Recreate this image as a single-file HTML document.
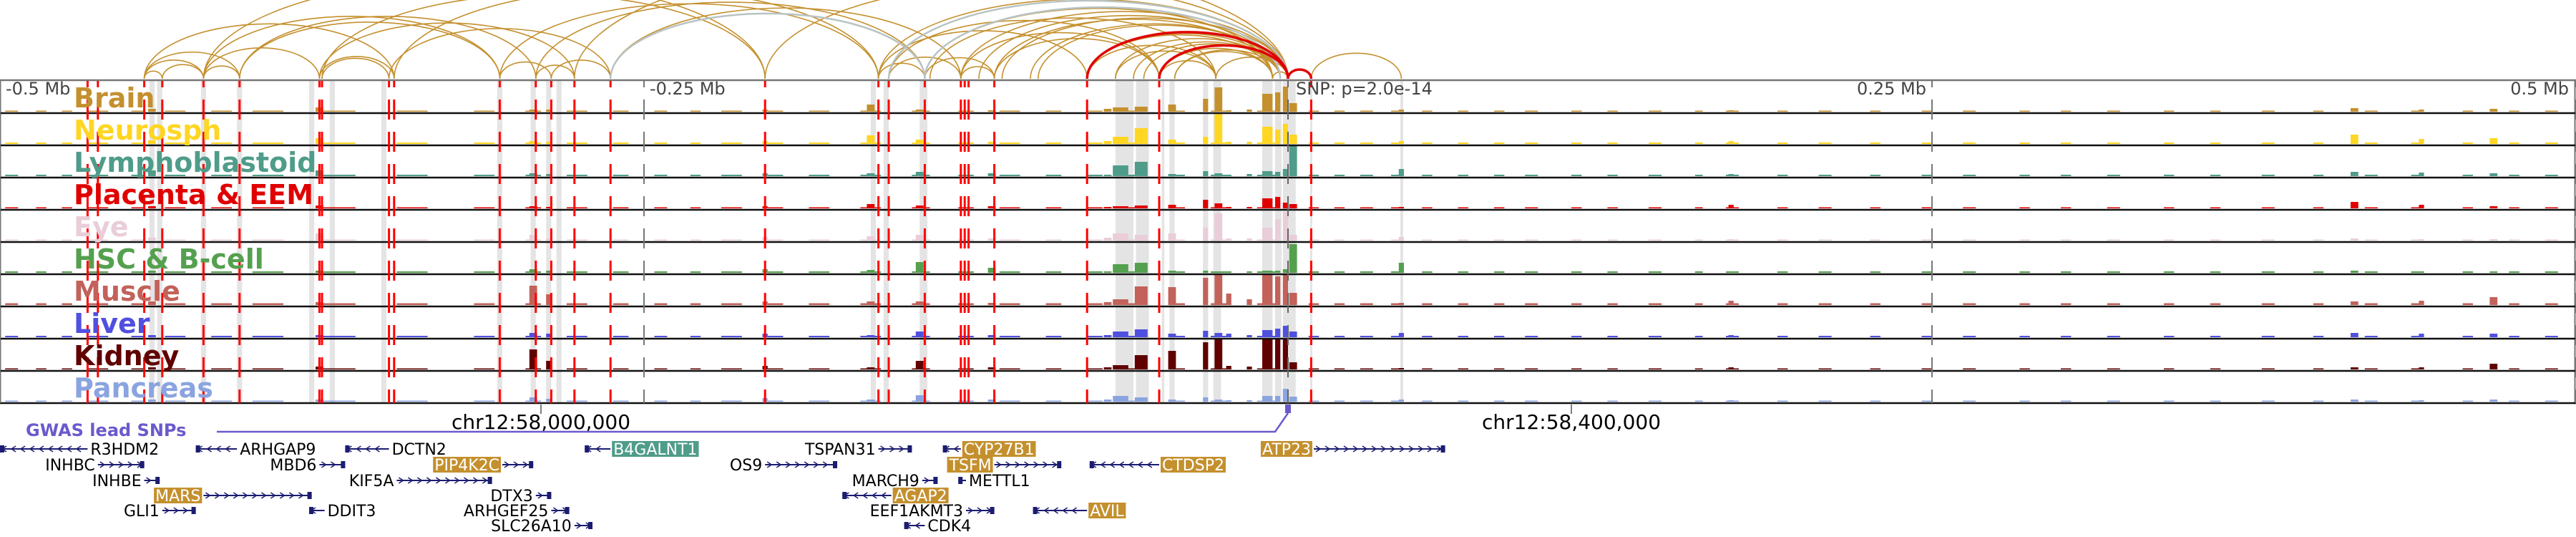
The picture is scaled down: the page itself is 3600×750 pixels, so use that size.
<!DOCTYPE html>
<html><head><meta charset="utf-8">
<style>
html,body{margin:0;padding:0;background:#fff;}
svg{display:block;font-family:"DejaVu Sans","Liberation Sans",sans-serif;}
</style></head>
<body>
<svg id="fig" width="3600" height="750" viewBox="0 0 3600 750" xmlns="http://www.w3.org/2000/svg">
<g id="arcs"></g>
<g id="bands"></g>
<g id="bars"></g>
<g id="frame"></g>
<g id="vlines"></g>
<g id="labels"></g>
<g id="axis"></g>
<g id="genes"></g>
</svg>
<script>
// ---- data (positions in kb relative to lead SNP) ----
const trackNames = ["Brain","Neurosph","Lymphoblastoid","Placenta & EEM","Eye","HSC & B-cell","Muscle","Liver","Kidney","Pancreas"];
const trackColors = ["#c4902e","#ffd622","#4f9c8a","#e00000","#e9cdd9","#55a04f","#c2625a","#5050e0","#600000","#8aa4e0"];
const bgLevel = [1.5,2,2,1.5,1.5,2,2.5,2,1.5,1.5];
const bgSegs = [[-498,-493],[-486,-482],[-476,-472],[-466,-458],[-449,-444],[-436,-428],[-418,-410],[-402,-390],[-376,-362],[-346,-334],[-316,-308],[-296,-290],[-280,-272],[-262,-256],[-246,-241],[-232,-228],[-220,-212],[-202,-196],[-186,-178],[-166,-158],[-146,-139],[-128,-122],[-112,-104],[-94,-88],[-78,-72],[-62,-56],[-46,-40],[-30,-22],[-12,-4],[8,12],[18,22],[28,33],[40,45],[52,56],[66,70],[80,84],[92,97],[110,114],[124,128],[140,145],[158,161],[170,175],[190,194],[206,211],[226,230],[246,250],[262,267],[284,288],[300,304],[318,323],[340,344],[358,362],[378,383],[398,402],[418,423],[436,440],[456,460],[474,478],[488,493]];
const peakKb = [-441,-293,-287,-376,-203,-162,-143,-115,-65,-57,-45,-32,-27,-23,-15,-8,-4,-1,2,44,-70,172,414,440,468];
const peakW  = [3,3,2,3,2,3,3,3,6,5,3,2,3,2,2,4,2,2,3,2,3,2,3,2,3];
const hBrain    = [4,3,3,6,3,10,3,2,6,7,10,18,34,2,3,25,27,35,12,3,4,2,5,3,4];
const hNeurosph = [5,4,3,8,4,12,6,3,10,22,6,10,42,3,3,24,20,28,13,4,4,4,13,7,8];
const hLymph    = [8,4,3,8,4,4,6,4,15,20,3,7,4,2,3,7,6,10,43,10,2,3,6,5,4];
const hPlacenta = [3,3,2,4,3,6,4,3,3,4,5,12,7,2,2,14,16,8,6,2,2,5,9,5,3];
const hEye      = [4,8,3,10,5,6,8,3,10,8,10,18,38,3,3,18,30,40,8,5,4,2,3,2,2];
const hHSC      = [3,5,3,3,5,4,15,7,12,14,3,3,2,2,2,3,3,5,40,14,2,2,3,2,2];
const hMuscle   = [5,27,15,4,5,5,5,3,8,26,25,38,42,16,8,43,40,43,17,3,4,6,5,6,11];
const hLiver    = [3,6,5,3,5,3,8,3,8,11,5,9,6,5,3,10,12,16,8,6,3,3,6,5,5];
const hKidney   = [3,28,12,4,5,3,12,3,6,20,26,38,43,5,4,43,43,43,10,2,3,3,3,3,8];
const hPancreas = [3,6,4,3,5,3,9,3,8,6,3,6,3,2,2,8,8,18,7,3,3,2,3,2,3];
const heights = [hBrain,hNeurosph,hLymph,hPlacenta,hEye,hHSC,hMuscle,hLiver,hKidney,hPancreas];
const redLinesKb = [-466,-462,-444,-437,-421,-407,-376,-375,-349,-347,-306,-292,-286,-277,-263,-203,-159,-155,-141,-127,-125.5,-124,-114,-78,-50,9];
const bandsKb = [[-442,-440],[-439,-437],[-422,-420],[-408,-406],[-380,-378],[-372,-370],[-352,-350],[-307,-305],[-294,-292],[-288,-286],[-284,-282],[-162,-160],[-157,-155],[-143,-140],[-67,-60],[-59,-54],[-49,-48],[-46,-44],[-33,-31],[-29,-26],[-10,-6],[-5,-2.5],[-2,3],[8.6,9.4],[43.6,44.7]];
const goldArcs = [[-444,-437],[-444,-421],[-437,-421],[-444,-407],[-421,-407],[-421,-376],[-421,-306],[-407,-306],[-407,-292],[-444,-347],[-376,-347],[-375,-349],[-376,-277],[-349,-263],[-306,-286],[-292,-277],[-286,-263],[-306,-159],[-292,-141],[-375,-203],[-347,-159],[-421,-203],[-263,-127],[-159,-141],[-155,-127],[-127,-114],[-141,-114],[-159,-78],[-155,-50],[-127,-50],[-114,-50],[-127,0],[-159,0],[-203,0],[-277,0],[-141,-6],[-114,-6],[-78,-28],[-67,-28],[-56,-3],[-50,-28],[-44,-3],[-28,0],[-6,0],[9,44],[-111,0],[-97,-3],[-139,-28],[-78,-3],[-67,-3],[-60,-3],[-50,-6],[-44,-6],[-78,-6],[-100,-3],[-120,-3]];
const grayArcs = [[-263,-141],[-155,0],[-141,-3]];
const redArcs = [[-78,0],[-50,0],[0,9]];
const axisTicksKb = [-500,-250,0,250,500];
const axisTickLabels = ["-0.5 Mb","-0.25 Mb","","0.25 Mb","0.5 Mb"];
const chrTicksKb = [-290,110];
const chrTickLabels = ["chr12:58,000,000","chr12:58,400,000"];
const geneNames  = ["R3HDM2","ARHGAP9","DCTN2","B4GALNT1","TSPAN31","CYP27B1","ATP23","INHBC","MBD6","PIP4K2C","OS9","TSFM","CTDSP2","INHBE","KIF5A","MARCH9","METTL1","MARS","DTX3","AGAP2","GLI1","DDIT3","ARHGEF25","EEF1AKMT3","AVIL","SLC26A10","CDK4"];
const geneStart  = [-500,-424,-366,-273,-159,-134,10,-462,-376,-305,-203,-114,-77,-444,-346,-142,-128,-421,-292,-173,-437,-380,-286,-125,-99,-277,-149];
const geneEnd    = [-466,-408,-349,-263,-146,-127,61,-444,-366,-293,-175,-88,-50,-438,-309,-136,-125,-379,-286,-154,-424,-374,-279,-114,-78,-270,-141];
const geneStrand = [-1,-1,-1,-1,1,-1,1,1,1,1,1,1,-1,1,1,1,-1,1,1,-1,1,-1,1,1,-1,1,-1];
const geneRow    = [0,0,0,0,0,0,0,1,1,1,1,1,1,2,2,2,2,3,3,3,4,4,4,4,4,5,5];
const geneHL     = ["","","","teal","","gold","gold","","","gold","","gold","gold","","","","","gold","","gold","","","","","gold","",""];

const NS="http://www.w3.org/2000/svg";
const X0=1800, PXKB=3.6;
const xs = kb => X0 + kb*PXKB;
const TOP=113, TH=45, NT=10;
const trackTop = i => TOP + i*TH;
function mk(tag, attrs, parent){const e=document.createElementNS(NS,tag);for(const k in attrs)e.setAttribute(k,attrs[k]);parent.appendChild(e);return e;}
const G = id => document.getElementById(id);

const BASE=110;
function drawArc(a, color, w){
  const x1=xs(a[0]), x2=xs(a[1]); const span=x2-x1;
  const h=0.95*Math.pow(span,0.75);
  const p=mk('path',{d:`M${x1},${BASE} A${span/2},${h} 0 0 1 ${x2},${BASE}`,fill:'none',stroke:color,'stroke-width':w},G('arcs'));
  
  
}
goldArcs.forEach(a=>drawArc(a,'#c4902e',1.6));
grayArcs.forEach(a=>drawArc(a,'#b9c3c3',2.5));
redArcs.forEach(a=>drawArc(a,'#e00000',3.5));

bandsKb.forEach(b=>{
  const r=mk('rect',{x:xs(b[0]),y:TOP,width:Math.max(3,xs(b[1])-xs(b[0])),height:NT*TH,fill:'#e4e4e4'},G('bands'));
  
  
});

for(let t=0;t<NT;t++){
  const base=trackTop(t)+TH-2;
  const g=mk('g',{},G('bars'));
  
  
  bgSegs.forEach(s=>{
    const r=mk('rect',{x:xs(s[0]),y:base-bgLevel[t],width:xs(s[1])-xs(s[0]),height:bgLevel[t],fill:trackColors[t]},g);
    
    
  });
  peakKb.forEach((k,i)=>{
    const h=Math.min(43,heights[t][i]); const w=peakW[i]*PXKB;
    const r=mk('rect',{x:xs(k)-w/2,y:base-h,width:w,height:h,fill:trackColors[t]},g);
    
    
  });
}

const fr=G('frame');
mk('rect',{x:0.5,y:112,width:3598,height:NT*TH+1,fill:'none',stroke:'#777','stroke-width':2},fr);
for(let t=1;t<=NT;t++){mk('line',{x1:0,x2:3600,y1:trackTop(t),y2:trackTop(t),stroke:'#111','stroke-width':2.5},fr);}
mk('line',{x1:0,x2:3600,y1:112,y2:112,stroke:'#777','stroke-width':2.5},fr);

axisTicksKb.forEach(k=>{
  const l=mk('line',{x1:xs(k),x2:xs(k),y1:TOP,y2:TOP+NT*TH,stroke:'#777','stroke-width':2,'stroke-dasharray':'28 17','stroke-dashoffset':19},G('vlines'));
  
  
});
redLinesKb.forEach(k=>{
  const l=mk('line',{x1:xs(k),x2:xs(k),y1:TOP,y2:TOP+NT*TH,stroke:'#ff0000','stroke-width':3,'stroke-dasharray':'28 17','stroke-dashoffset':19},G('vlines'));
  
  
});

trackNames.forEach((n,t)=>{
  const tx=mk('text',{x:103,y:trackTop(t)+37,fill:trackColors[t],'font-size':38,'font-weight':'bold'},G('labels'));
  tx.textContent=n;
  
  
});

const ax=G('axis');
axisTicksKb.forEach((k,i)=>{
  if(!axisTickLabels[i])return;
  const right = k>0;
  const tx=mk('text',{x:right?xs(k)-8:xs(k)+8,y:132,'text-anchor':right?'end':'start',fill:'#444','font-size':24},ax);
  if(k===500){tx.setAttribute('x',3590);}
  tx.textContent=axisTickLabels[i];
  
  
});
const snpL=mk('text',{x:xs(0)+11,y:132,fill:'#444','font-size':24},ax);
snpL.textContent='SNP: p=2.0e-14';


mk('line',{x1:xs(0),x2:xs(0),y1:TOP,y2:TOP+NT*TH,stroke:'#666','stroke-width':2,'stroke-dasharray':'28 17','stroke-dashoffset':19},ax);
chrTicksKb.forEach((k,i)=>{
  mk('line',{x1:xs(k),x2:xs(k),y1:565,y2:578,stroke:'#555','stroke-width':1.5},ax);
  const tx=mk('text',{x:xs(k),y:599,'text-anchor':'middle',fill:'#000','font-size':28},ax);
  tx.textContent=chrTickLabels[i];
  
  
});
const gw=mk('text',{x:36,y:609,fill:'#6a5acd','font-size':24,'font-weight':'bold'},ax);
gw.textContent='GWAS lead SNPs';


mk('path',{d:`M303,603 L1782,603 L${xs(0)},577`,fill:'none',stroke:'#6a5acd','stroke-width':2.5},ax);
mk('rect',{x:xs(0)-4,y:565,width:8,height:12,fill:'#6a5acd'},ax);

const rowY=[627,649,671,692,713,734];
geneNames.forEach((n,i)=>{
  const g=mk('g',{},G('genes'));
  
  
  const x1=Math.max(0,xs(geneStart[i])), x2=xs(geneEnd[i]), y=rowY[geneRow[i]];
  mk('line',{x1:x1,x2:x2,y1:y,y2:y,stroke:'#1c1c70','stroke-width':2},g);
  for(let cx=x1+6; cx<x2-6; cx+=13){
    const d=geneStrand[i];
    mk('path',{d:`M${cx-3*d},${y-4} L${cx+3*d},${y} L${cx-3*d},${y+4}`,fill:'none',stroke:'#1c1c70','stroke-width':1.5},g);
  }
  const ex = geneStrand[i]>0 ? x2-6 : x1;
  mk('rect',{x:ex,y:y-5,width:6,height:10,fill:'#1c1c70'},g);
  const left = geneStrand[i]>0;
  const tx = left ? x1-4 : x2+4;
  const t=mk('text',{x:tx,y:y+8,'text-anchor':left?'end':'start','font-size':22,fill:geneHL[i]?'#fff':'#000'},g);
  t.textContent=n;
  if(geneHL[i]){
    const bb=t.getBBox();
    const r=document.createElementNS(NS,'rect');
    r.setAttribute('x',bb.x-2);r.setAttribute('y',y-11);r.setAttribute('width',bb.width+4);r.setAttribute('height',22);
    r.setAttribute('fill',geneHL[i]==='teal'?'#4f9c8a':'#c4902e');
    g.insertBefore(r,t);
  }
});
</script>
</body></html>
